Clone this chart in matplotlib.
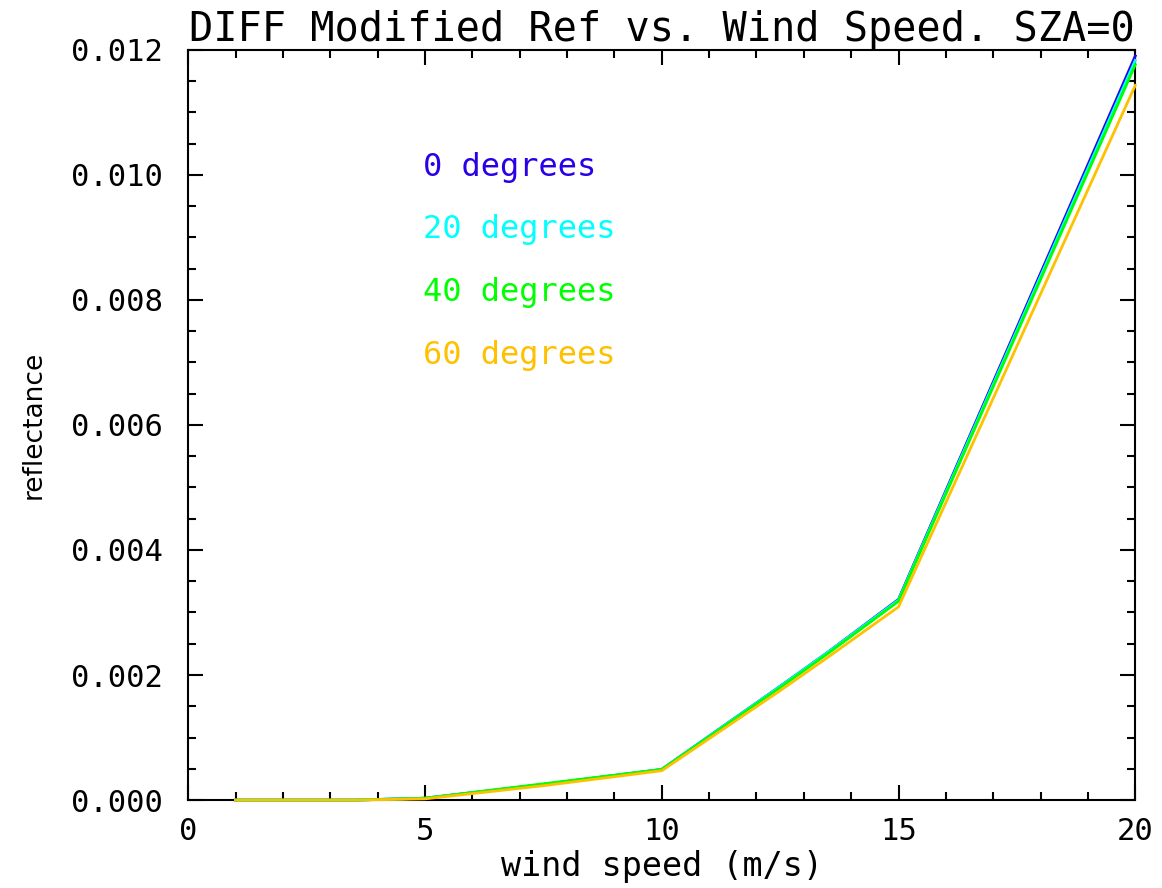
import matplotlib.pyplot as plt
from matplotlib.ticker import MultipleLocator, FormatStrFormatter

# wind speed (m/s) and DIFF reflectance per viewing angle
wind_speed = [1.0, 3.5, 5.0, 7.5, 10.0, 12.5, 13.5, 15.0, 20.0]

refl_0 = [0.0, 0.0, 0.00003, 0.00025, 0.00049, 0.00182, 0.00236, 0.00321, 0.01190]
refl_20 = [0.0, 0.0, 0.00003, 0.00025, 0.00049, 0.00182, 0.00236, 0.00320, 0.01183]
refl_40 = [0.0, 0.0, 0.00003, 0.00026, 0.00049, 0.00180, 0.00234, 0.00318, 0.01176]
refl_60 = [0.0, 0.0, 0.00002, 0.00023, 0.00047, 0.00175, 0.00228, 0.00309, 0.01143]

series_labels = ["0 degrees", "20 degrees", "40 degrees", "60 degrees"]
series_colors = ["#2a00e6", "#00ffff", "#00ff00", "#ffc000"]

plt.rcParams["font.family"] = "DejaVu Sans Mono"


def plot_diff_vs_wind(save_path="out.png"):
    fig = plt.figure(figsize=(11.62, 8.88), dpi=100)
    ax = fig.add_axes([0.162, 0.099, 0.815, 0.845])

    series = [refl_0, refl_20, refl_40, refl_60]
    for values, color in zip(series, series_colors):
        ax.plot(wind_speed, values, color=color, linewidth=2, zorder=3,
                clip_on=False)

    # colour-coded labels instead of a legend box
    label_y = [0.843, 0.760, 0.676, 0.593]
    for text, color, y in zip(series_labels, series_colors, label_y):
        ax.text(0.248, y, text, color=color, fontsize=23,
                transform=ax.transAxes, va="center", ha="left")

    ax.set_xlim(0, 20)
    ax.set_ylim(0, 0.012)
    ax.xaxis.set_major_locator(MultipleLocator(5))
    ax.xaxis.set_minor_locator(MultipleLocator(1))
    ax.yaxis.set_major_locator(MultipleLocator(0.002))
    ax.yaxis.set_minor_locator(MultipleLocator(0.0005))
    ax.yaxis.set_major_formatter(FormatStrFormatter("%.3f"))

    ax.tick_params(which="both", direction="in", top=True, right=True,
                   width=1.5, labelsize=22)
    ax.tick_params(which="major", length=11)
    ax.tick_params(which="minor", length=6)
    ax.tick_params(axis="x", pad=12)
    ax.tick_params(axis="y", pad=18)
    for spine in ax.spines.values():
        spine.set_linewidth(1.5)

    ax.set_title("DIFF Modified Ref vs. Wind Speed. SZA=0", fontsize=29, pad=3)
    ax.set_xlabel("wind speed (m/s)", fontsize=24, labelpad=3)
    ax.set_ylabel("reflectance", fontsize=19, family="DejaVu Sans",
                  labelpad=18)

    fig.savefig(save_path, dpi=100)
    plt.close(fig)


plot_diff_vs_wind()
